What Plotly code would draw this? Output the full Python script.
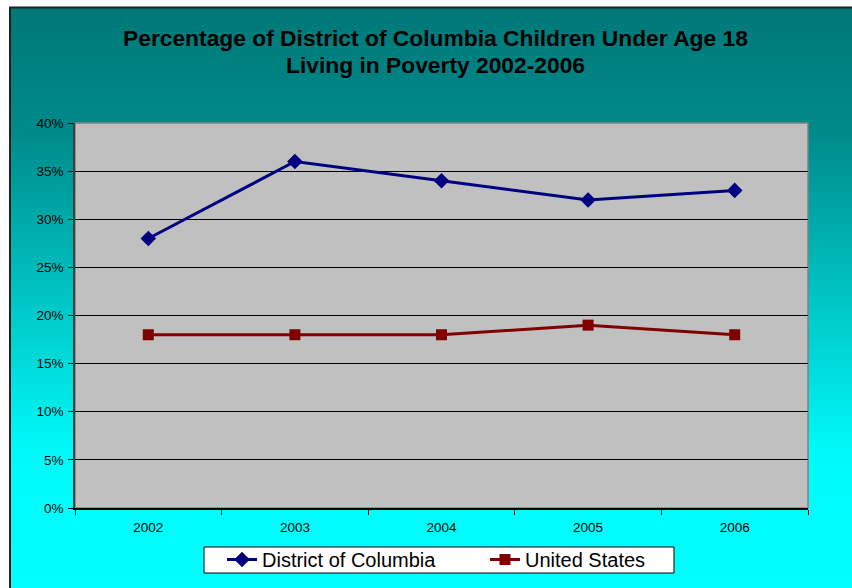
import plotly.graph_objects as go

# data
years = ["2002", "2003", "2004", "2005", "2006"]
dc_pct = [28, 36, 34, 32, 33]
us_pct = [18, 18, 18, 19, 18]
y_ticks = [0, 5, 10, 15, 20, 25, 30, 35, 40]

W, H = 852, 588
L, R, T, B = 75, 808, 123, 508  # plot area in pixels


def px_x(px):
    return (px - L) / (R - L)


def px_y(py):
    return (B - py) / (B - T)


def mix(c1, c2, t):
    return tuple(round(a + (b - a) * t) for a, b in zip(c1, c2))


# teal -> cyan background, as stacked thin bands
stops = [(8, (0, 120, 120)), (130, (0, 138, 138)), (300, (0, 198, 198)),
         (450, (0, 250, 250)), (588, (0, 255, 255))]
shapes = []
step = 4
y = 8
while y < H:
    for (y0, c0), (y1, c1) in zip(stops, stops[1:]):
        if y0 <= y <= y1:
            col = mix(c0, c1, (y - y0) / (y1 - y0))
            break
    shapes.append(dict(type="rect", xref="paper", yref="paper", layer="below",
                       x0=px_x(10), x1=px_x(W + 10), y0=px_y(y + step + 1), y1=px_y(y),
                       fillcolor="rgb(%d,%d,%d)" % col, line_width=0))
    y += step

# grey plot area with grey frame
shapes.append(dict(type="rect", xref="paper", yref="paper", layer="below",
                   x0=0, x1=1, y0=0, y1=1, fillcolor="#C0C0C0",
                   line=dict(color="#808080", width=1.5)))
# legend box (drawn by hand so it can be as tight as the original)
shapes.append(dict(type="rect", xref="paper", yref="paper", layer="below",
                   x0=px_x(204), x1=px_x(674), y0=px_y(573), y1=px_y(547),
                   fillcolor="white", line=dict(color="black", width=1)))
# chart box outline
shapes.append(dict(type="rect", xref="paper", yref="paper", layer="above",
                   x0=px_x(10), x1=px_x(W + 20), y0=px_y(H + 20), y1=px_y(7.5),
                   line=dict(color="#202020", width=2)))

fig = go.Figure()
fig.add_trace(go.Scatter(
    x=years, y=dc_pct, name="District of Columbia", mode="lines+markers",
    line=dict(color="#000080", width=3),
    marker=dict(symbol="diamond", size=12, color="#000080")))
fig.add_trace(go.Scatter(
    x=years, y=us_pct, name="United States", mode="lines+markers",
    line=dict(color="#800000", width=3),
    marker=dict(symbol="square", size=11, color="#800000")))

fig.update_layout(
    width=W, height=H,
    margin=dict(l=L, r=W - R, t=T, b=H - B, pad=0, autoexpand=False),
    paper_bgcolor="white",
    plot_bgcolor="rgba(0,0,0,0)",
    font=dict(family="Liberation Sans, Arial, sans-serif", color="black"),
    shapes=shapes,
    showlegend=True,
    legend=dict(orientation="h", x=px_x(222), xanchor="left",
                y=px_y(540), yanchor="top",
                bgcolor="rgba(0,0,0,0)", borderwidth=0,
                font=dict(size=20), itemwidth=30, entrywidth=218),
    annotations=[
        dict(text="<b>Percentage of District of Columbia Children Under Age 18</b>",
             xref="paper", yref="paper", x=px_x(435), y=px_y(38),
             xanchor="center", yanchor="middle", showarrow=False,
             font=dict(size=22.8)),
        dict(text="<b>Living in Poverty 2002-2006</b>",
             xref="paper", yref="paper", x=px_x(435), y=px_y(65),
             xanchor="center", yanchor="middle", showarrow=False,
             font=dict(size=22.8)),
    ],
)

fig.update_xaxes(
    type="category", range=[-0.5, len(years) - 0.5],
    tickson="boundaries", ticks="outside", ticklen=5,
    tickcolor="black", showgrid=False, showline=True, linecolor="black",
    linewidth=1.5, tickfont=dict(size=13.5), ticklabelstandoff=6, zeroline=False,
)
fig.update_yaxes(
    range=[0, 40], tickvals=y_ticks, ticktext=["%d%%" % v for v in y_ticks],
    ticks="outside", ticklen=5, tickcolor="black",
    showgrid=True, gridcolor="black", gridwidth=1,
    showline=True, linecolor="#404040", linewidth=1.5,
    tickfont=dict(size=13.5), ticklabelstandoff=2, zeroline=False,
)

fig.write_html("out.html", config={"displayModeBar": False},
               post_script="document.body.style.margin='0';")
